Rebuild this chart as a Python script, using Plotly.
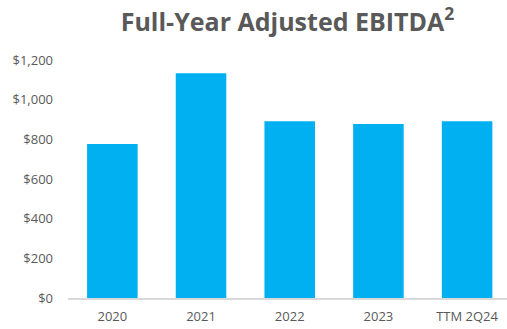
import plotly.graph_objects as go

categories = ["2020", "2021", "2022", "2023", "TTM 2Q24"]
ebitda = [777, 1133, 891, 877, 891]
y_ticks = [0, 200, 400, 600, 800, 1000, 1200]
y_tick_labels = ["$0", "$200", "$400", "$600", "$800", "$1,000", "$1,200"]

fig = go.Figure()
fig.add_trace(go.Bar(
    x=categories, y=ebitda,
    marker=dict(color="#00B0F0", line=dict(width=0)),
    width=0.57,
    hoverinfo="skip",
))

fig.update_layout(
    width=507, height=329,
    margin=dict(l=68, r=0, t=60, b=31, autoexpand=False),
    paper_bgcolor="white", plot_bgcolor="white",
    showlegend=False,
    title=dict(
        text="<b>Full-Year Adjusted EBITDA<sup>2</sup></b>",
        x=0.5, xref="paper", xanchor="center",
        y=1 - 22 / 329, yref="container", yanchor="middle",
        font=dict(family="Open Sans", size=25, color="#595959"),
    ),
    font=dict(family="Open Sans", size=13, color="#595959"),
)
fig.update_xaxes(
    range=[-0.5, 4.45],
    showline=True, linecolor="#D9D9D9", linewidth=1.5,
    showgrid=False, ticks="", ticklabelstandoff=6,
    tickfont=dict(family="Open Sans", size=13, color="#595959"),
)
fig.update_yaxes(
    range=[0, 1200], tickmode="array", tickvals=y_ticks, ticktext=y_tick_labels,
    showgrid=False, zeroline=False, showline=False, ticks="",
    ticklabelstandoff=14,
    tickfont=dict(family="Open Sans", size=13, color="#595959"),
)

fig.write_html(
    "out.html",
    config={"displayModeBar": False, "staticPlot": True},
    post_script="document.body.style.margin='0';document.body.style.padding='0';",
)
